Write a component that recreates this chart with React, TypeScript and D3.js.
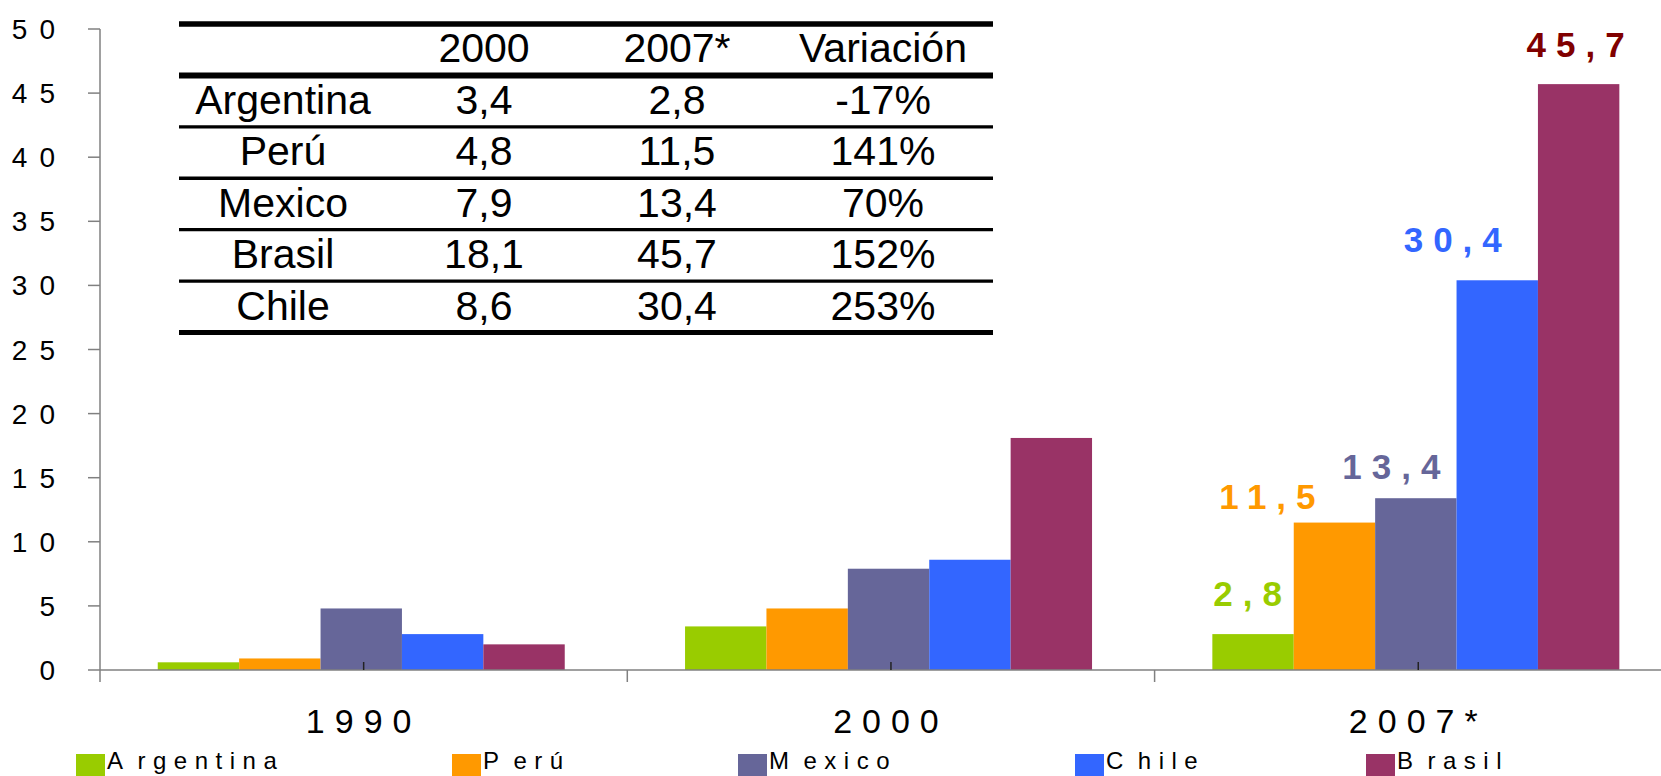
import React from 'react'
import * as d3 from 'd3'

// chart data
const years = ['1990', '2000', '2007*']
const countries = ['Argentina', 'Perú', 'Mexico', 'Chile', 'Brasil']
const values1990 = [0.6, 0.9, 4.8, 2.8, 2.0]
const values2000 = [3.4, 4.8, 7.9, 8.6, 18.1]
const values2007 = [2.8, 11.5, 13.4, 30.4, 45.7]
const yTicks = [0, 5, 10, 15, 20, 25, 30, 35, 40, 45, 50]
const colors = ['#99CC00', '#FF9900', '#666699', '#3366FF', '#993366']
const labelColors = ['#99CC00', '#FF9900', '#666699', '#3366FF', '#800000']

// inset table data
const tableHeader = ['', '2000', '2007*', 'Variación']
const tableCountries = ['Argentina', 'Perú', 'Mexico', 'Brasil', 'Chile']
const table2000 = [3.4, 4.8, 7.9, 18.1, 8.6]
const table2007 = [2.8, 11.5, 13.4, 45.7, 30.4]
const tableVariation = ['-17%', '141%', '70%', '152%', '253%']

// layout (not data)
const W = 1661
const H = 776
const FONT = '"Liberation Sans", Arial, sans-serif'
const labelDx = [-5.5, -67, -24.5, -44.5, -3]
const labelDy = [-28, -14, -19, -28, -27]
const legendX = [76, 452, 738, 1075, 1366]
const tableCols = [283, 484, 677, 883]
const tableLineW = [5.5, 6, 3.3, 3.3, 3.3, 3.3, 5]

const comma = (v: number) => d3.format('.1f')(v).replace('.', ',')

const App = () => {
  const series = [values1990, values2000, values2007]
  const x0 = d3.scaleBand<string>().domain(years).range([100, 100 + 3 * 527.3])
  const x1 = d3
    .scaleBand<string>()
    .domain(countries)
    .range([0, x0.bandwidth()])
    .paddingOuter(0.739)
    .align(0.48)
  const y = d3.scaleLinear().domain([0, 50]).range([670, 29])
  const rowY = d3.scaleLinear().domain([0, 6]).range([24, 332.5])

  const axisColor = '#808080'

  return (
    <svg
      width={W}
      height={H}
      style={{position: 'absolute', left: 0, top: 0, background: '#fff'}}
      fontFamily={FONT}
    >
      <rect width={W} height={H} fill="#fff" />

      {/* bars */}
      {years.map((yr, gi) => (
        <g key={yr} transform={`translate(${x0(yr)},0)`}>
          {countries.map((c, i) => (
            <rect
              key={c}
              x={x1(c)}
              y={y(series[gi][i])}
              width={x1.bandwidth()}
              height={y(0) - y(series[gi][i])}
              fill={colors[i]}
            />
          ))}
        </g>
      ))}

      {/* y axis */}
      <line x1={100} x2={100} y1={y(50)} y2={682} stroke={axisColor} strokeWidth={1.5} />
      {yTicks.map((t) => (
        <g key={t}>
          <line x1={88} x2={100} y1={y(t)} y2={y(t)} stroke={axisColor} strokeWidth={1.5} />
          <text
            x={67}
            y={y(t)}
            dy="0.36em"
            textAnchor="end"
            fontSize={28}
            style={{letterSpacing: '12px'}}
          >
            {t}
          </text>
        </g>
      ))}

      {/* x axis */}
      <line x1={100} x2={W} y1={y(0)} y2={y(0)} stroke={axisColor} strokeWidth={1.5} />
      {years.map((yr, gi) => (
        <g key={yr}>
          {gi > 0 && (
            <line
              x1={x0(yr)}
              x2={x0(yr)}
              y1={y(0)}
              y2={682}
              stroke={axisColor}
              strokeWidth={1.5}
            />
          )}
          <line
            x1={x0(yr)! + x0.bandwidth() / 2}
            x2={x0(yr)! + x0.bandwidth() / 2}
            y1={y(0) - 8}
            y2={y(0)}
            stroke="#222"
            strokeWidth={1.5}
          />
          <text
            x={x0(yr)! + x0.bandwidth() / 2}
            y={733}
            textAnchor="middle"
            fontSize={34}
            style={{letterSpacing: '10px'}}
          >
            {yr}
          </text>
        </g>
      ))}

      {/* value labels for 2007* */}
      {countries.map((c, i) => (
        <text
          key={c}
          x={x0('2007*')! + x1(c)! + x1.bandwidth() / 2 + labelDx[i] + 5}
          y={y(values2007[i]) + labelDy[i]}
          textAnchor="middle"
          fontSize={35}
          fontWeight="bold"
          fill={labelColors[i]}
          style={{letterSpacing: '10px'}}
        >
          {comma(values2007[i])}
        </text>
      ))}

      {/* legend */}
      {countries.map((c, i) => (
        <g key={c}>
          <rect x={legendX[i]} y={754} width={29} height={30} fill={colors[i]} />
          <text x={legendX[i] + 31} y={769} fontSize={24} style={{letterSpacing: '7.5px'}}>
            <tspan>{c[0]}</tspan>
            <tspan dx={7}>{c.slice(1)}</tspan>
          </text>
        </g>
      ))}

      {/* inset table */}
      <g>
        {tableLineW.map((w, i) => (
          <line
            key={i}
            x1={179}
            x2={993}
            y1={rowY(i)}
            y2={rowY(i)}
            stroke="#000"
            strokeWidth={w}
          />
        ))}
        {tableHeader.map((h, j) => (
          <text key={j} x={tableCols[j]} y={rowY(1) - 13} textAnchor="middle" fontSize={41}>
            {h}
          </text>
        ))}
        {tableCountries.map((c, r) => {
          const cells = [c, comma(table2000[r]), comma(table2007[r]), tableVariation[r]]
          return cells.map((v, j) => (
            <text
              key={`${r}-${j}`}
              x={tableCols[j]}
              y={rowY(r + 2) - 13}
              textAnchor="middle"
              fontSize={41}
            >
              {v}
            </text>
          ))
        })}
      </g>
    </svg>
  )
}

export default App
